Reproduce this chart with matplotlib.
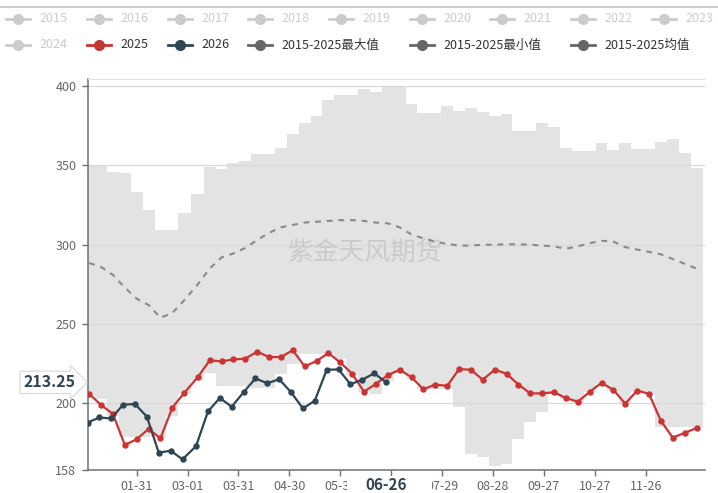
import numpy as np
import pandas as pd
import matplotlib
matplotlib.use('Agg')
import matplotlib.pyplot as plt
from matplotlib.lines import Line2D
from matplotlib.patches import Rectangle
import matplotlib.transforms as mtransforms

plt.rcParams['font.family'] = ['Noto Sans CJK SC', 'DejaVu Sans']

# weekly data (Friday dates)
dates_2025 = pd.date_range('2025-01-03', periods=52, freq='7D')
dates_2026 = pd.date_range('2026-01-02', periods=26, freq='7D')

vals_2025 = [206.0, 199.0, 193.3, 173.8, 177.4, 183.9, 178.0, 197.3, 206.6, 216.5,
             227.1, 226.5, 227.7, 228.2, 232.6, 229.2, 229.2, 233.5, 223.3, 226.7,
             231.7, 225.8, 218.7, 207.4, 212.3, 217.8, 221.2, 216.5, 208.9, 211.9,
             211.0, 221.6, 221.2, 214.9, 221.2, 218.7, 211.9, 206.3, 206.3, 207.0,
             203.4, 201.1, 207.2, 213.0, 208.5, 199.8, 208.1, 206.0, 189.0, 178.4,
             181.4, 184.4]

vals_2026 = [187.9, 191.1, 190.5, 199.2, 199.6, 191.6, 168.9, 170.2, 164.7, 173.1,
             194.9, 203.4, 197.9, 207.0, 215.7, 212.7, 215.2, 207.0, 196.8, 201.7,
             221.2, 221.4, 212.1, 214.9, 219.0, 213.25]

band_max = [350, 350, 346, 345, 333.5, 322, 309.5, 309.5, 320, 332,
            349, 347.5, 351.5, 353, 357, 357, 361, 370, 377, 381,
            391, 394.5, 394.5, 398.5, 396, 400, 400, 389, 383, 383,
            387.5, 384.5, 386, 384, 381, 382.5, 371.5, 371.5, 376.5, 374,
            361, 359, 359, 364, 359.5, 364, 360.5, 360.5, 364.5, 366.5,
            358, 348.5]

band_min = [206, 203, 192, 178.5, 178.5, 178.5, 178.5, 192, 206, 214,
            219, 211, 211, 211, 210, 210, 218.5, 225, 231, 231,
            231, 228, 218, 207, 206, 214, 219, 215.5, 209, 209,
            209, 197.5, 168, 166, 160.5, 161.5, 177.5, 188, 194.5, 206,
            203, 200, 207, 212.5, 208, 200, 207, 206, 185, 185,
            185, 185]

band_mean = [288.5, 286, 281, 273, 266, 262, 254, 257, 265, 275,
             285, 292, 294.5, 298, 303, 307.5, 311, 312.5, 314, 314.5,
             315, 315.5, 315.5, 315, 314, 313.5, 311, 306.5, 304, 302,
             300.5, 299.5, 299.5, 300, 300, 300.3, 300.3, 300, 299.5, 299,
             297.5, 299, 301, 302.5, 302, 298.5, 297, 295.5, 294, 291,
             288, 285]

tick_labels = ['01-31', '03-01', '03-31', '04-30', '05-30', '06-29',
               '07-29', '08-28', '09-27', '10-27', '11-26']
y_ticks = [158, 200, 250, 300, 350, 400]
pointer_date = '06-26'
pointer_value = 213.25

legend_row1 = ['2015', '2016', '2017', '2018', '2019', '2020', '2021', '2022', '2023']
legend_row2 = ['2024', '2025', '2026', '2015-2025最大值', '2015-2025最小值', '2015-2025均值']


def day_index(mmdd):
    # position on a leap-year day axis (01-01 = 0)
    return pd.Timestamp('2024-' + mmdd).dayofyear - 1


x_2025 = np.array([day_index(d.strftime('%m-%d')) for d in dates_2025])
x_2026 = np.array([day_index(d.strftime('%m-%d')) for d in dates_2026])

W, H = 718, 493
fig = plt.figure(figsize=(W / 100, H / 100), dpi=100)
ax = fig.add_axes([87.5 / W, (H - 470) / H, 617.5 / W, 391 / H])

x_lo, x_hi = 1, 365
ax.set_xlim(x_lo, x_hi)
ax.set_ylim(158, 404.5)

# min-max band drawn as steps
edges = np.concatenate([[x_lo], (x_2025[:-1] + x_2025[1:]) / 2, [364]])
xs = np.repeat(edges, 2)[1:-1]
ax.fill_between(xs, np.repeat(band_min, 2), np.repeat(band_max, 2),
                color='#e3e3e3', lw=0, zorder=1)

for yv in y_ticks[1:]:
    ax.axhline(yv, color='#d9d9d9', lw=0.9, zorder=1.5)

ax.text(0.449, 294.5, '紫金天风期货', transform=mtransforms.blended_transform_factory(ax.transAxes, ax.transData),
        ha='center', va='center', fontsize=18.5, color='#cbcbcb', zorder=1.6)

ax.plot(x_2025, band_mean, color='#8a8a8a', lw=1.5, dashes=(2.8, 2.8), zorder=2)
ax.plot(x_2025, vals_2025, color='#cc3333', lw=1.6, marker='o', ms=3.6, zorder=3)
ax.plot(x_2026, vals_2026, color='#2f4554', lw=1.6, marker='o', ms=3.6, zorder=4)

# axes styling
ax.spines['right'].set_visible(False)
ax.spines['top'].set_color('#e2e2e2')
ax.spines['left'].set_color('#6e7079')
ax.spines['bottom'].set_color('#6e7079')
ax.spines['left'].set_linewidth(1.1)
ax.spines['bottom'].set_linewidth(1.1)

ax.set_yticks(y_ticks)
ax.set_xticks([day_index(t) for t in tick_labels])
# the label under the pointer box is hidden in the original
ax.set_xticklabels(['' if t == '06-29' else t for t in tick_labels])
ax.tick_params(axis='both', colors='#6e7079', labelcolor='#666666', labelsize=9,
               length=4.5, width=1)
ax.tick_params(axis='x', pad=3)

# axis pointer labels
px = day_index(pointer_date)
xt = mtransforms.blended_transform_factory(ax.transData, ax.transAxes)
ax.add_patch(Rectangle((px - 23, -0.075), 50, 0.06, transform=xt, fc='white', ec='none',
                       zorder=9, clip_on=False))
ax.text(px, -0.039, pointer_date, transform=xt,
        ha='center', va='center', fontsize=11, fontweight='bold', color='#2f4554',
        zorder=10, clip_on=False)
ax.text(-0.062, pointer_value, '%.2f' % pointer_value,
        transform=mtransforms.blended_transform_factory(ax.transAxes, ax.transData),
        ha='center', va='center', fontsize=11.5, fontweight='bold', color='#2f4554',
        bbox=dict(boxstyle='rarrow,pad=0.2', fc='white', ec='#d8d8d8', lw=0.8), zorder=10, clip_on=False)

# legend (manual, two rows)
fig.add_artist(Line2D([0, 1], [1 - 7 / H, 1 - 7 / H], transform=fig.transFigure, color='#c4c4c4', lw=1.2))


def legend_item(cx, cy, label, icon_color, text_color):
    yf = 1 - cy / H
    fig.add_artist(Line2D([(cx - 12) / W, (cx + 12) / W], [yf, yf], transform=fig.transFigure,
                          color=icon_color, lw=2))
    fig.add_artist(Line2D([cx / W], [yf], transform=fig.transFigure, marker='o', ms=7,
                          color=icon_color, lw=0))
    fig.text((cx + 21) / W, yf, label, ha='left', va='center', fontsize=9, color=text_color)


row1_x = [18, 99, 180, 260, 341, 422, 502, 583, 664]
for cx, lab in zip(row1_x, legend_row1):
    legend_item(cx, 19, lab, '#cccccc', '#cccccc')

row2_x = [18, 99, 180, 260, 422, 583]
row2_icon = ['#cccccc', '#c23531', '#2f4554', '#666666', '#666666', '#666666']
row2_text = ['#cccccc', '#333333', '#333333', '#333333', '#333333', '#333333']
for cx, lab, ic, tc in zip(row2_x, legend_row2, row2_icon, row2_text):
    legend_item(cx, 45, lab, ic, tc)

fig.savefig('out.png', dpi=100, facecolor='white')
